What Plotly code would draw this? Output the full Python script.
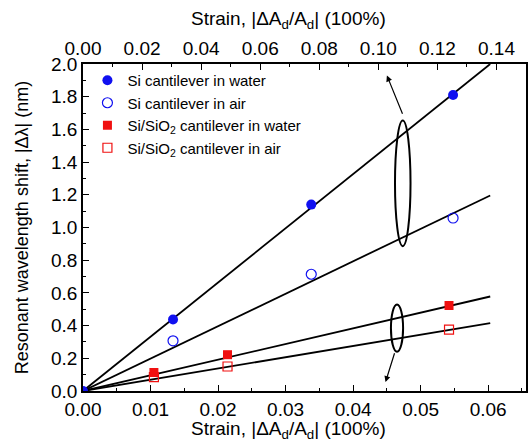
import plotly.graph_objects as go

# ---- data ----
si_water_x = [0.0, 0.01333, 0.0338, 0.0548]
si_water_y = [0.0, 0.437, 1.14, 1.81]
si_air_x = [0.01333, 0.0338, 0.0548]
si_air_y = [0.307, 0.714, 1.058]
sio2_water_x = [0.0105, 0.0214, 0.0542]
sio2_water_y = [0.113, 0.222, 0.523]
sio2_air_x = [0.0105, 0.0214, 0.0542]
sio2_air_y = [0.085, 0.150, 0.375]

fit_x = [0.0, 0.0603]
fit_si_water = [0.0, 2.0]
fit_si_air = [0.0, 1.196]
fit_sio2_water = [0.0, 0.578]
fit_sio2_air = [0.0, 0.415]

bottom_range = [0.0, 0.0656]
top_range = [0.0, 0.15]
y_range = [0.0, 2.0]

FONT = "Liberation Sans, Arial, sans-serif"
BLUE = "#1010f0"
RED = "#f01010"

fig = go.Figure()

for fy in [fit_si_water, fit_si_air, fit_sio2_water, fit_sio2_air]:
    fig.add_trace(go.Scatter(x=fit_x, y=fy, mode="lines",
                             line=dict(color="black", width=1.8),
                             showlegend=False, hoverinfo="skip"))

fig.add_trace(go.Scatter(x=si_water_x, y=si_water_y, mode="markers",
                         name="Si cantilever in water",
                         marker=dict(symbol="circle", size=10, color=BLUE)))
fig.add_trace(go.Scatter(x=si_air_x, y=si_air_y, mode="markers",
                         name="Si cantilever in air",
                         marker=dict(symbol="circle-open", size=10, color=BLUE,
                                     line=dict(width=1.2, color=BLUE))))
fig.add_trace(go.Scatter(x=sio2_water_x, y=sio2_water_y, mode="markers",
                         name="Si/SiO<sub>2</sub> cantilever in water",
                         marker=dict(symbol="square", size=9, color=RED)))
fig.add_trace(go.Scatter(x=sio2_air_x, y=sio2_air_y, mode="markers",
                         name="Si/SiO<sub>2</sub> cantilever in air",
                         marker=dict(symbol="square-open", size=9, color=RED,
                                     line=dict(width=1.2, color=RED))))

# invisible trace to carry the top axis
fig.add_trace(go.Scatter(x=top_range, y=[None, None], xaxis="x2", mode="lines",
                         showlegend=False, hoverinfo="skip"))

# ellipses grouping the lines
fig.add_shape(type="circle", xref="x", yref="y", x0=0.0462, x1=0.0485,
              y0=0.886, y1=1.655, line=dict(color="black", width=2))
fig.add_shape(type="circle", xref="x", yref="y", x0=0.0456, x1=0.0474,
              y0=0.24, y1=0.529, line=dict(color="black", width=2))

# arrows pointing to the axes
fig.add_annotation(x=0.0450, y=1.93, ax=0.0474, ay=1.686, xref="x", yref="y",
                   axref="x", ayref="y", showarrow=True, arrowhead=2,
                   arrowsize=1, arrowwidth=1.2, arrowcolor="black", text="")
fig.add_annotation(x=0.0448, y=0.055, ax=0.0462, ay=0.24, xref="x", yref="y",
                   axref="x", ayref="y", showarrow=True, arrowhead=2,
                   arrowsize=1, arrowwidth=1.2, arrowcolor="black", text="")

title_txt = "Strain, |ΔA<sub>d</sub>/A<sub>d</sub>| (100%)"
# axis titles for the two strain axes
fig.add_annotation(text=title_txt, xref="paper", yref="paper", x=0.463, y=1.134,
                   xanchor="center", yanchor="middle", showarrow=False,
                   font=dict(size=19, family=FONT, color="black"))
fig.add_annotation(text=title_txt, xref="paper", yref="paper", x=0.463, y=-0.118,
                   xanchor="center", yanchor="middle", showarrow=False,
                   font=dict(size=19, family=FONT, color="black"))

axis_common = dict(showline=True, linecolor="black", linewidth=1.5,
                   ticks="inside", ticklen=6, tickwidth=1.2, tickcolor="black",
                   showgrid=False, zeroline=False, automargin=False,
                   tickfont=dict(size=19, color="black", family=FONT))

fig.update_layout(
    width=528, height=444,
    margin=dict(l=83, r=2, t=64, b=53),
    paper_bgcolor="white", plot_bgcolor="white",
    font=dict(family=FONT, color="black"),
    xaxis=dict(range=bottom_range, dtick=0.01, tickformat=".2f",
               mirror=False,
               minor=dict(dtick=0.005, ticks="inside", ticklen=3, tickcolor="black"),
               **axis_common),
    xaxis2=dict(range=top_range, dtick=0.02, tickformat=".2f", overlaying="x",
                side="top", anchor="y",
                minor=dict(dtick=0.01, ticks="inside", ticklen=3, tickcolor="black"),
                **axis_common),
    yaxis=dict(range=y_range, dtick=0.2, tickformat=".1f",
               title=dict(text="Resonant wavelength shift, |Δλ| (nm)",
                          font=dict(size=18), standoff=18),
               mirror=True,
               minor=dict(dtick=0.1, ticks="inside", ticklen=3, tickcolor="black"),
               **axis_common),
    legend=dict(x=0.01, y=1.0, xanchor="left", yanchor="top",
                bgcolor="rgba(0,0,0,0)", font=dict(size=15, family=FONT),
                itemwidth=30, tracegroupgap=0),
)

fig.write_html("out.html", config={"displayModeBar": False},
               post_script="document.body.style.margin='0';document.body.style.overflow='hidden';")
